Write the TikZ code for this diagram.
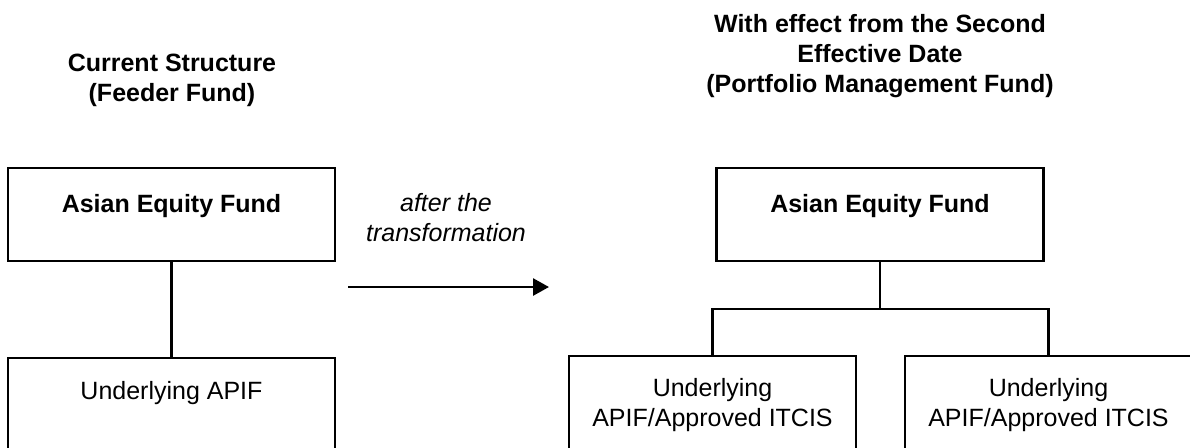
\documentclass[tikz,border=0pt]{standalone}
\usepackage{fontspec}
\setmainfont{Liberation Sans}
\usetikzlibrary{arrows.meta}

\begin{document}
\begin{tikzpicture}[x=0.5pt,y=-0.5pt,line width=1.35pt,
        >={Triangle[length=8pt,width=8.5pt]},
        txt/.style={font=\fontsize{12.5pt}{15pt}\selectfont,inner sep=0pt,align=center},
        fundbox/.style={txt,draw,font=\fontsize{12.5pt}{15pt}\selectfont\bfseries,
                minimum width=163.5pt,text height=22pt,text depth=24.5pt,anchor=base},
        underbox/.style={txt,draw,minimum width=143.5pt,text height=35pt,text depth=22pt,anchor=base}]
        \useasboundingbox (0,0) rectangle (1190,447);

        \node[txt,font=\fontsize{12.5pt}{15pt}\selectfont\bfseries,anchor=base] (curtitle) at (172,101) {Current Structure\\(Feeder Fund)};
        \node[txt,font=\fontsize{12.5pt}{15pt}\selectfont\bfseries,anchor=base] (newtitle) at (880,92) {With effect from the Second\\Effective Date\\(Portfolio Management Fund)};

        \node[fundbox] (curfund) at (171.5,212) {Asian Equity Fund};
        \node[underbox,minimum width=163.5pt,text height=20.5pt,text depth=35.5pt] (curunder) at (171.5,399) {Underlying APIF};
        \draw (curfund.south) -- (curunder.north);

        \node[txt,font=\fontsize{12.5pt}{15pt}\selectfont\itshape,anchor=base] (transf) at (446,241) {after the\\transformation};
        \coordinate (arrowstart) at (348,287);
        \coordinate (arrowend) at (549,287);
        \draw[->] (arrowstart) -- (arrowend);

        \node[fundbox] (newfund) at (880,212) {Asian Equity Fund};
        \node[underbox] (newundera) at (712.5,426) {Underlying\\APIF/Approved ITCIS};
        \node[underbox] (newunderb) at (1048.5,426) {Underlying\\APIF/Approved ITCIS};
        \coordinate (split) at (880,309);
        \draw (newfund.south) -- (split);
        \draw (newundera.north) |- (split) -| (newunderb.north);
\end{tikzpicture}
\end{document}
